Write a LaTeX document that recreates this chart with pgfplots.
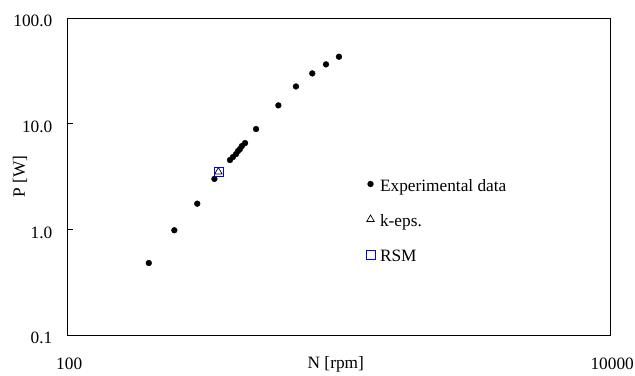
\documentclass[border=0pt]{standalone}
\usepackage{pgfplots}
\pgfplotsset{compat=1.18}
\usepackage{fontspec}
\setmainfont{Liberation Serif}
\newcommand{\chartfont}{\fontsize{17.3bp}{20bp}\selectfont}
\begin{document}
\begin{tikzpicture}
\begin{axis}[
  at={(67.7bp,41bp)}, anchor=south west,
  scale only axis, width=543bp, height=317bp,
  xmode=log, ymode=log,
  xmin=100, xmax=10000, ymin=0.1, ymax=100,
  xtick={100,10000}, xticklabels={100,10000},
  ytick={0.1,1,10,100}, yticklabels={0.1,1.0,10.0,100.0},
  xminorticks=false, yminorticks=false,
  ytick pos=left, tick align=inside,
  major tick length=5.5bp,
  x tick style={draw=none},
  y tick style={black, line width=0.8bp},
  axis line style={black, line width=1bp},
  tick label style={font=\chartfont, inner sep=0pt},
  xticklabel style={anchor=base, yshift=-34.5bp, xshift=1.5bp},
  yticklabel style={anchor=base east, xshift=-15.2bp, yshift=-8.7bp},
  label style={font=\chartfont},
  xlabel={N [rpm]},
  xlabel style={at={(axis description cs:0.4937,-0.1057)}, anchor=base, inner sep=0pt},
  ylabel={P [W]},
  ylabel style={at={(axis description cs:-0.0878,0.5)}, anchor=center, inner sep=0pt},
  legend style={draw=none, fill=none, at={(axis description cs:0.5494,0.4921)}, anchor=north west,
    inner sep=0pt, outer sep=0pt, font=\chartfont, row sep=19.3bp,
    nodes={inner sep=0pt, text height=12bp, text depth=4bp}},
  legend cell align=left,
  legend image code/.code={\path[draw=none, fill=none] (0bp,0bp) rectangle (12.5bp,1bp); \draw[#1] plot coordinates {(3bp,3bp)};},
]
\addplot[only marks, mark=*, mark size=2.9bp, black] coordinates {
(199,0.48)(247,0.98)(300,1.75)(347,3.0)(396,4.53)(406,4.83)(417,5.16)(424,5.51)(431,5.75)(438,6.14)(450,6.55)(494,8.9)(597,14.9)(693,22.5)(796,29.9)(894,36.4)(998,43.0)
};
\addlegendentry{Experimental data}
\addplot[only marks, mark=triangle, mark size=4.3bp, black, mark options={line width=0.7bp}] coordinates {(359,3.5)};
\addlegendentry{k-eps.}
\addplot[only marks, mark=square, mark size=4.5bp, blue, mark options={line width=0.8bp}] coordinates {(359,3.5)};
\addlegendentry{RSM}
\end{axis}
\pgfresetboundingbox
\path[use as bounding box] (0,0) rectangle (635bp,376bp);
\end{tikzpicture}
\end{document}
